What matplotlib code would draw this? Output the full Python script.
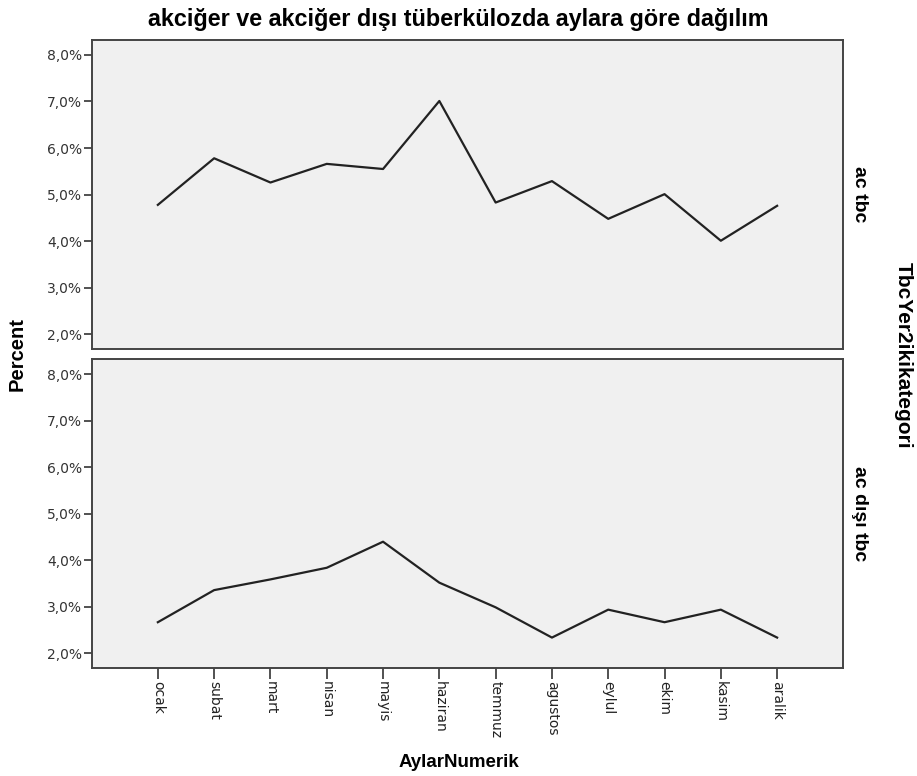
import matplotlib
matplotlib.use("Agg")
import matplotlib.pyplot as plt
from matplotlib.ticker import FuncFormatter

plt.rcParams['font.family'] = ['Liberation Sans', 'DejaVu Sans']

months = ["ocak", "subat", "mart", "nisan", "mayis", "haziran",
          "temmuz", "agustos", "eylul", "ekim", "kasim", "aralik"]
panel_labels = ["ac tbc", "ac dışı tbc"]

# percent by month for each category
ac_tbc = [4.78, 5.78, 5.26, 5.66, 5.55, 7.01, 4.83, 5.29, 4.48, 5.01, 4.01, 4.76]
ac_disi_tbc = [2.67, 3.36, 3.59, 3.84, 4.40, 3.52, 2.99, 2.34, 2.94, 2.67, 2.94, 2.34]

y_ticks = [2, 3, 4, 5, 6, 7, 8]

fig = plt.figure(figsize=(9.17, 7.76), dpi=100)
ax_top = fig.add_axes([0.1003, 0.5499, 0.819, 0.3986])
ax_bot = fig.add_axes([0.1003, 0.1388, 0.819, 0.3982])

pct_fmt = FuncFormatter(lambda v, _: f"{v:.1f}%".replace(".", ","))
x = list(range(len(months)))

for ax, vals, lab in [(ax_top, ac_tbc, panel_labels[0]),
                      (ax_bot, ac_disi_tbc, panel_labels[1])]:
    ax.set_facecolor("#f0f0f0")
    ax.plot(x, vals, color="#222222", linewidth=1.6)
    ax.set_xlim(-1.17, 12.17)
    ax.set_ylim(1.68, 8.32)
    ax.set_yticks(y_ticks)
    ax.yaxis.set_major_formatter(pct_fmt)
    ax.tick_params(axis="y", length=6, width=1.2, color="#333333",
                   labelsize=10, labelcolor="#333333", pad=1)
    for t in ax.get_yticklabels():
        t.set_family("DejaVu Sans")
    for s in ax.spines.values():
        s.set_color("#444444")
        s.set_linewidth(1.4)
    ax.text(1.022, 0.5, lab, transform=ax.transAxes, rotation=270,
            ha="center", va="center", fontsize=14, fontweight="bold")

ax_top.set_xticks([])
ax_bot.set_xticks(x)
ax_bot.set_xticklabels(months, rotation=270, fontsize=10, va="top", ha="center",
                       family="DejaVu Sans")
ax_bot.tick_params(axis="x", length=8, width=1.2, color="#333333", pad=1,
                   labelcolor="#222222")

fig.text(0.5, 0.975, "akciğer ve akciğer dışı tüberkülozda aylara göre dağılım",
         ha="center", va="center", fontsize=16.8, fontweight="bold")
fig.text(0.019, 0.544, "Percent", rotation=90, ha="center", va="center",
         fontsize=14.5, fontweight="bold")
fig.text(0.5, 0.017, "AylarNumerik", ha="center", va="center",
         fontsize=13.5, fontweight="bold")
fig.text(0.985, 0.542, "TbcYer2ikikategori", rotation=270, ha="center",
         va="center", fontsize=15, fontweight="bold")

fig.savefig("out.png", dpi=100)
